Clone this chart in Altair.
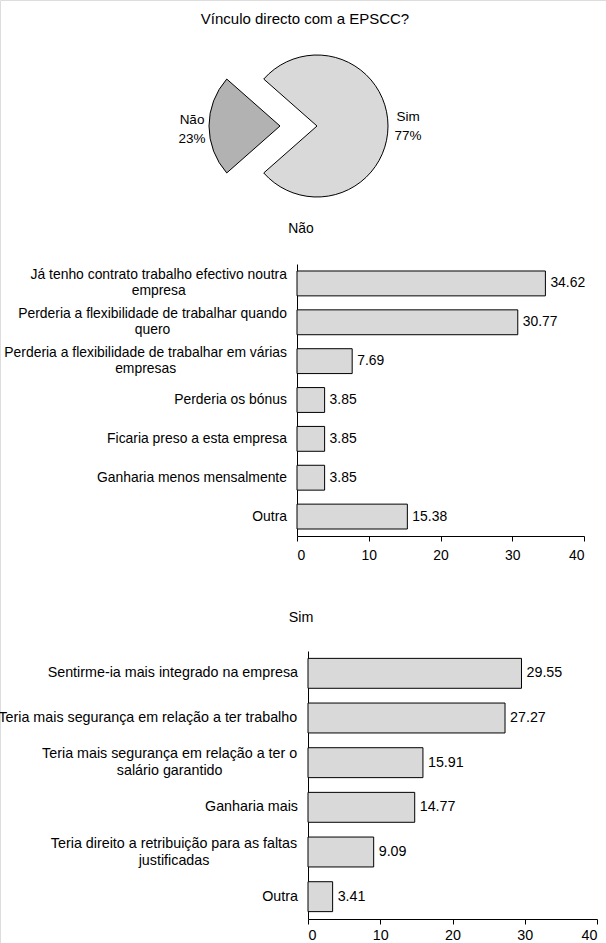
import math

import altair as alt
import numpy as np
import pandas as pd

# ---------------------------------------------------------------- data
pie_labels = ["Sim", "Não"]
pie_values = [77, 23]
pie_fills = ["#d9d9d9", "#b2b2b2"]

nao_labels = [
    "Já tenho contrato trabalho efectivo noutra\nempresa",
    "Perderia a flexibilidade de trabalhar quando\nquero",
    "Perderia a flexibilidade de trabalhar em várias\nempresas",
    "Perderia os bónus",
    "Ficaria preso a esta empresa",
    "Ganharia menos mensalmente",
    "Outra",
]
nao_values = [34.62, 30.77, 7.69, 3.85, 3.85, 3.85, 15.38]

sim_labels = [
    "Sentirme-ia mais integrado na empresa",
    "Teria mais segurança em relação a ter trabalho",
    "Teria mais segurança em relação a ter o\nsalário garantido",
    "Ganharia mais",
    "Teria direito a retribuição para as faltas\njustificadas",
    "Outra",
]
sim_values = [29.55, 27.27, 15.91, 14.77, 9.09, 3.41]

x_ticks = [0, 10, 20, 30, 40]

main_title = "Vínculo directo com a EPSCC?"

# ---------------------------------------------------------------- style
FONT = "Liberation Sans"
W, H = 606, 943
BAR_FILL = "#d9d9d9"

# Liberation Sans / Arial advance widths (1/1000 em), used to centre
# the wrapped category labels under their longest line.
_ADV = {}
for chars, adv in [
    ("ilj'", 222), ("í", 278), (" !,./:;ftI", 278), ("r-()", 333),
    ("cksvxyzJç", 500), ("abdeghnopqu0123456789?áàâãéêóôõú", 556),
    ("FTZ", 611), ("ABEKPSVXY", 667), ("CDHNRUw", 722), ("GOQ", 778),
    ("mM", 833), ("%", 889), ("W", 944),
]:
    for ch in chars:
        _ADV[ch] = adv


def text_width(s, size):
    return max(sum(_ADV.get(c, 556) for c in line) for line in s.split("\n")) * size / 1000


def block_shift(s, line_h):
    """Vertical shift that centres a multi-line block on its anchor."""
    return -(s.count("\n")) * line_h / 2


def txt(text, x, y, size):
    return (
        alt.Chart(pd.DataFrame({"t": [text]}))
        .mark_text(font=FONT, fontSize=size, color="black", align="center", baseline="middle")
        .encode(text="t:N", x=alt.value(x), y=alt.value(y))
    )


# ---------------------------------------------------------------- pie
PIE_LH = 19
starts = np.concatenate([[0], np.cumsum(pie_values)[:-1]])
pie_df = pd.DataFrame({
    "label": pie_labels,
    "pct": pie_values,
    "t0": starts,
    "t1": starts + np.array(pie_values),
})
pie_df["mid"] = (pie_df["t0"] + pie_df["t1"]) / 2
pie_df["text"] = [f"{l}\n{v}%" for l, v in zip(pie_labels, pie_values)]
pie_df["dy"] = [block_shift(s, PIE_LH) for s in pie_df["text"]]

# rotate so that the "Não" slice points to 9 o'clock
nao_mid = float(pie_df.loc[pie_df["label"] == "Não", "mid"].iloc[0])
rot = 1.5 * math.pi - 2 * math.pi * nao_mid / 100
theta_scale = alt.Scale(domain=[0, 100], range=[rot, rot + 2 * math.pi])

PIE_CY = 126
PIE_R = 71
# centre x (Não exploded), label radius, label nudge
slice_setup = {"Sim": (317, 91, 0), "Não": (280, 88, 3)}

pie_layers = []
for name, fill in zip(pie_labels, pie_fills):
    cx, lr, nudge = slice_setup[name]
    base = alt.Chart(pie_df).transform_filter(alt.datum.label == name)
    pie_layers.append(
        base.mark_arc(radius=PIE_R, fill=fill, stroke="black", strokeWidth=1).encode(
            theta=alt.Theta("t0:Q", scale=theta_scale),
            theta2="t1:Q",
            x=alt.value(cx),
            y=alt.value(PIE_CY),
        )
    )
    pie_layers.append(
        base.mark_text(
            radius=lr, font=FONT, fontSize=13.5, color="black", align="center",
            baseline="middle", lineBreak="\n", lineHeight=PIE_LH,
            dy=alt.expr(f"datum.dy + {nudge}"),
        ).encode(
            theta=alt.Theta("mid:Q", scale=theta_scale),
            text="text:N",
            x=alt.value(cx),
            y=alt.value(PIE_CY),
        )
    )


# ---------------------------------------------------------------- bars
def bar_panel(labels, values, x_range, y_range, size, line_h, pad, label_pad):
    df = pd.DataFrame({"cat": labels, "v": values})
    df["w"] = [text_width(s, size) for s in labels]
    df["dy"] = [block_shift(s, line_h) for s in labels]
    xs = alt.Scale(domain=[0, 40], range=x_range, nice=False)
    ys = alt.Scale(domain=labels, range=y_range, paddingInner=pad, paddingOuter=pad / 2)
    base = alt.Chart(df)

    bars = base.mark_bar(fill=BAR_FILL, stroke="black", strokeWidth=1).encode(
        x=alt.X(
            "v:Q", scale=xs, title=None,
            axis=alt.Axis(
                orient="bottom", offset=y_range[1] - H, values=x_ticks, format="d",
                domain=True, ticks=True, labels=True,
                grid=False, domainColor="black", tickColor="black", tickSize=5,
                labelFont=FONT, labelFontSize=size, labelColor="black",
                labelPadding=label_pad,
            ),
        ),
        y=alt.Y(
            "cat:N", scale=ys, title=None,
            axis=alt.Axis(
                orient="left", offset=-x_range[0], domain=True, labels=False,
                ticks=False, grid=False, domainColor="black",
            ),
        ),
    )
    values_txt = base.mark_text(
        font=FONT, fontSize=size, color="black", align="left", baseline="middle", dx=5
    ).encode(
        x=alt.X("v:Q", scale=xs, axis=None),
        y=alt.Y("cat:N", scale=ys, axis=None),
        text=alt.Text("v:Q", format=".2f"),
    )
    cat_txt = base.mark_text(
        font=FONT, fontSize=size, color="black", align="center", baseline="middle",
        lineBreak="\n", lineHeight=line_h,
        dx=alt.expr("-10 - datum.w / 2"), dy=alt.expr("datum.dy"),
    ).encode(
        x=alt.X(datum=0, type="quantitative", scale=xs, axis=None),
        y=alt.Y("cat:N", scale=ys, axis=None),
        text="cat:N",
    )
    return [bars, values_txt, cat_txt]


nao_layers = bar_panel(nao_labels, nao_values, [297, 584], [264, 536], 13.9, 16, 0.36, 7)
sim_layers = bar_panel(sim_labels, sim_values, [308, 597], [651, 919], 14.3, 17, 0.33, 4)

chart = (
    alt.layer(
        txt(main_title, 305, 19, 15),
        *pie_layers,
        txt("Não", 301, 229, 13.9),
        *nao_layers,
        txt("Sim", 301, 618, 14.3),
        *sim_layers,
    )
    .resolve_scale(x="independent", y="independent", theta="independent")
    .resolve_axis(x="independent", y="independent")
    .properties(width=W, height=H, padding=0, autosize=alt.AutoSizeParams(type="none"))
    .configure_view(stroke="transparent", strokeWidth=0)
    .configure_axis(domain=False, ticks=False, labels=False, grid=False)
    .configure(background="white")
)

chart.save("out.html", embed_options={"renderer": "svg", "actions": False})
